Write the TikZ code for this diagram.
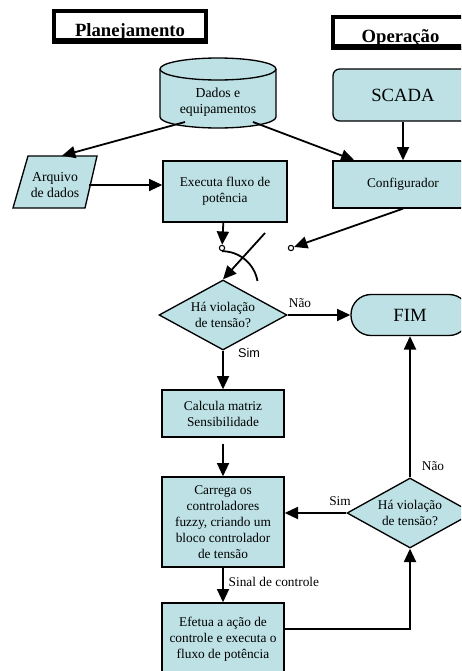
\documentclass[tikz,border=0pt]{standalone}
\usepackage{fontspec}
\setmainfont{Liberation Serif}
\newfontfamily\sanslbl{Liberation Sans}
\usetikzlibrary{arrows.meta,positioning,shapes.geometric,calc}
\definecolor{boxfill}{RGB}{189,225,229}
\tikzset{
    box/.style={
        draw,
        fill=boxfill,
        line width=1pt,
        align=center,
        inner sep=2pt,
        font=\fontsize{10}{12}\selectfont
    },
    decision/.style={
        box,
        diamond,
        aspect=1.8,
        inner sep=0pt
    },
    drum/.style={
        draw,
        fill=boxfill,
        line width=1pt
    },
    title/.style={
        draw,
        line width=3pt,
        fill=white,
        inner sep=0pt,
        text height=15.5pt,
        text depth=0pt,
        font=\bfseries\fontsize{14}{16}\selectfont
    },
    switch/.style={
        circle,
        draw,
        fill=white,
        line width=0.8pt,
        inner sep=0pt,
        minimum size=4pt
    },
    arrow/.style={
        -{Triangle[length=10pt,width=9pt]},
        line width=1.35pt
    },
    line/.style={line width=1.35pt},
    txt/.style={align=center, font=\fontsize{10.3}{12}\selectfont},
    lbl/.style={font=\fontsize{10}{12}\selectfont}
}

\begin{document}
\begin{tikzpicture}[x=0.75pt, y=-0.75pt]
\clip (0,0) rectangle (461,671);

% titles
\node[title, minimum width=114pt, minimum height=23.25pt] (plan) at (130,26.5) {Planejamento};
\fill ([yshift=4.5pt]plan.south west) rectangle (plan.south east);
\node[title, minimum width=101.25pt, minimum height=23.25pt] (oper) at (400.5,32.5) {Operação};
\fill ([yshift=4.5pt]oper.south west) rectangle (oper.south east);

% planning side
\draw[drum] (160,69) -- (160,117) arc (180:0:58 and 11) -- (276,69) arc (0:-180:58 and 11) -- cycle;
\draw[line width=1pt] (160,69) arc (180:0:58 and 11);
\node[txt] (dados) at (218,102) {Dados e\\equipamentos};

\draw[drum] (13,208) -- (28,156) -- (97,156) -- (85,208) -- cycle;
\node[txt, minimum width=51pt, minimum height=43.5pt] (arq) at (55,185) {Arquivo\\de dados};

\node[box, minimum width=93pt, minimum height=45.75pt] (exec) at (225,191.5) {Executa fluxo de\\potência};

% operation side
\node[box, rounded corners=5pt, minimum width=105pt, minimum height=39pt,
    font=\fontsize{14}{16}\selectfont] (scada) at (403,95) {SCADA};
\node[box, minimum width=105pt, minimum height=35.25pt] (cfg) at (403,184.5) {Configurador};

% switch
\node[switch] (sw1) at (222,248) {};
\node[switch] (sw2) at (291,248) {};
\coordinate (lever) at (265,233);

\node[decision, minimum width=96pt, minimum height=52.5pt] (dia1) at (223,315) {Há violação\\de tensão?};
\node[box, rounded corners=15pt, minimum width=88.5pt, minimum height=30.75pt,
    font=\fontsize{14}{16}\selectfont] (fim) at (410,315) {FIM};
\node[box, minimum width=91.5pt, minimum height=35.25pt] (calc) at (223,413.5) {Calcula matriz\\Sensibilidade};
\node[box, minimum width=91.5pt, minimum height=67.5pt] (carr) at (223,522)
    {Carrega os\\controladores\\fuzzy, criando um\\bloco controlador\\de tensão};
\node[decision, minimum width=94.5pt, minimum height=52.5pt] (dia2) at (410,513) {Há violação\\de tensão?};
\node[box, minimum width=91.5pt, minimum height=54pt] (efe) at (223,639)
    {Efetua a ação de\\controle e executa o\\fluxo de potência};

% labels
\node[lbl] (nao1) at (300,303) {Não};
\node[lbl, font=\sanslbl\fontsize{9.5}{11}\selectfont] (sim1) at (249,353) {Sim};
\node[lbl] (nao2) at (433,466) {Não};
\node[lbl] (sim2) at (340,501) {Sim};
\node[lbl, anchor=west] (sinal) at (224,582) {Sinal de controle};

% connectors
\draw[arrow] ($(dados)+(-33,20)$) -- ($(arq.north)+(7,0)$);
\draw[arrow] ($(dados)+(35,20)$) -- ($(cfg.north west)+(22,0)$);
\draw[arrow] (scada) -- (cfg);
\draw[arrow] (arq.east) -- (arq.east -| exec.west);
\draw[arrow] (exec) -- (sw1);
\draw[arrow] (cfg.south) -- (sw2);
\draw[arrow] (lever) -- (dia1.north);
\draw[line] (sw1.south) arc (-90:-10:36);
\draw[arrow] (dia1) -- (fim);
\draw[arrow] (dia1) -- (calc);
\draw[arrow, shorten <=4.5pt] (calc) -- (carr);
\draw[arrow] (dia2) -- (fim);
\draw[arrow] (dia2.west) -- (dia2.west -| carr.east);
\draw[arrow] (carr) -- (efe);
\draw[arrow] ($(efe.east)+(0,-10)$) -| (dia2.south);

\end{tikzpicture}
\end{document}
